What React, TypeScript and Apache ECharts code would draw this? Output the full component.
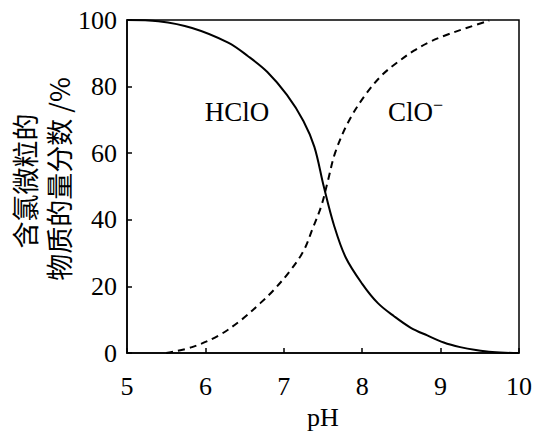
import React, { useEffect, useRef } from "react";
import * as echarts from "echarts";

const xTicks = [5, 6, 7, 8, 9, 10];
const yTicks = [0, 20, 40, 60, 80, 100];

// HClO fraction (%) vs pH
const hcloPH = [5.0, 5.4, 5.83, 6.29, 6.54, 6.79, 7.04, 7.25, 7.39, 7.51, 7.64, 7.79, 8.0, 8.2, 8.41, 8.62, 8.83, 9.04, 9.25, 9.45, 9.66, 10.0];
const hcloVal = [100, 99.6, 97.6, 93.2, 89.2, 84.4, 77.5, 69.7, 61.9, 50, 38.4, 28.7, 20.8, 15, 11, 7.6, 5.3, 3.2, 1.8, 0.9, 0.3, 0];

// ClO- fraction (%) vs pH
const cloPH = [5.5, 5.83, 6.17, 6.46, 6.7, 6.87, 7.08, 7.25, 7.37, 7.48, 7.56, 7.66, 7.83, 8.04, 8.25, 8.45, 8.66, 8.85, 9.04, 9.33, 9.62];
const cloVal = [0, 1.8, 5.3, 10, 15, 18.9, 24.7, 30.6, 37.5, 44.3, 51.5, 60.5, 69.7, 77.5, 83.4, 87.3, 90.8, 93.3, 95.2, 97.6, 99.8];

const yNameLine1 = "含氯微粒的";
const yNameLine2 = "物质的量分数 /%";

export default function App() {
  const ref = useRef<HTMLDivElement>(null);
  useEffect(() => {
    if (!ref.current) return;
    const chart = echarts.init(ref.current, null, { renderer: "svg" });
    const serif = "'Liberation Serif', 'Times New Roman', serif";
    chart.setOption({
      animation: false,
      backgroundColor: "#fff",
      grid: {
        left: 127,
        right: 8,
        top: 20,
        bottom: 74,
        show: true,
        borderColor: "#000",
        borderWidth: 1.5,
      },
      xAxis: {
        type: "value",
        min: xTicks[0],
        max: xTicks[xTicks.length - 1],
        interval: 1,
        name: "pH",
        nameLocation: "middle",
        nameGap: 48,
        nameTextStyle: { fontFamily: serif, fontSize: 26, color: "#000" },
        axisLine: { show: true, lineStyle: { color: "#000", width: 1.5 } },
        axisTick: { show: true, inside: true, length: 5, lineStyle: { color: "#000", width: 1.5 } },
        axisLabel: { fontFamily: serif, fontSize: 26, color: "#000", margin: 20 },
        splitLine: { show: false },
      },
      yAxis: {
        type: "value",
        min: yTicks[0],
        max: yTicks[yTicks.length - 1],
        interval: 20,
        axisLine: { show: true, lineStyle: { color: "#000", width: 1.5 } },
        axisTick: { show: true, inside: true, length: 5, lineStyle: { color: "#000", width: 1.5 } },
        axisLabel: { fontFamily: serif, fontSize: 26, color: "#000", margin: 10 },
        splitLine: { show: false },
      },
      graphic: [
        {
          type: "text",
          x: 24,
          y: 181,
          rotation: Math.PI / 2,
          style: {
            text: yNameLine1,
            fontFamily: "'Noto Sans CJK SC', sans-serif",
            fontSize: 27,
            fill: "#000",
            textAlign: "center",
            textVerticalAlign: "middle",
          },
        },
        {
          type: "text",
          x: 58,
          y: 179,
          rotation: Math.PI / 2,
          style: {
            text: yNameLine2,
            fontFamily: "'Noto Sans CJK SC', sans-serif",
            fontSize: 27,
            fill: "#000",
            textAlign: "center",
            textVerticalAlign: "middle",
          },
        },
        {
          type: "text",
          x: 237,
          y: 112,
          style: {
            text: "HClO",
            fontFamily: serif,
            fontSize: 27,
            fill: "#000",
            textAlign: "center",
            textVerticalAlign: "middle",
          },
        },
        {
          type: "text",
          x: 388,
          y: 112,
          style: {
            text: "{a|ClO}{b|−}",
            fontFamily: serif,
            fontSize: 27,
            fill: "#000",
            textAlign: "left",
            textVerticalAlign: "middle",
            rich: {
              a: { fontFamily: serif, fontSize: 27, fill: "#000" },
              b: { fontFamily: serif, fontSize: 18, fill: "#000", verticalAlign: "top", padding: [0, 0, 14, 0] },
            },
          },
        },
      ],
      series: [
        {
          type: "line",
          data: hcloPH.map((p, i) => [p, hcloVal[i]]),
          smooth: 0.35,
          showSymbol: false,
          lineStyle: { color: "#000", width: 2 },
        },
        {
          type: "line",
          data: cloPH.map((p, i) => [p, cloVal[i]]),
          smooth: 0.35,
          showSymbol: false,
          lineStyle: { color: "#000", width: 2, type: [7, 5] },
        },
      ],
    });
    return () => chart.dispose();
  }, []);
  return (
    <div
      ref={ref}
      style={{ position: "fixed", left: 0, top: 0, width: 535, height: 435 }}
    />
  );
}
